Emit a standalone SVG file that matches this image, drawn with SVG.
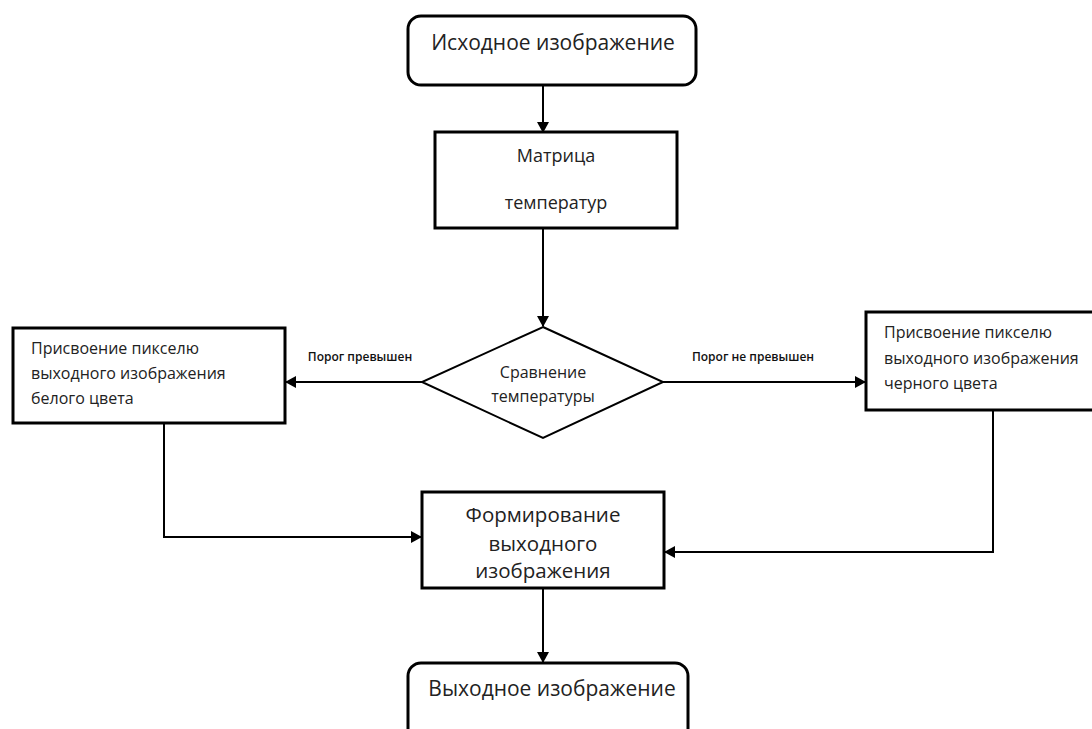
<svg xmlns="http://www.w3.org/2000/svg" width="1092" height="729" viewBox="0 0 1092 729">
<defs>
<marker id="arr" markerWidth="12" markerHeight="12" refX="10" refY="6" orient="auto" markerUnits="userSpaceOnUse">
<path d="M0,0 L11,6 L0,12 Z" fill="#000"/>
</marker>
<style>
.box{fill:#fff;stroke:#000;stroke-width:3}
.con{fill:none;stroke:#000;stroke-width:2;marker-end:url(#arr)}
.t{font-family:"Open Sans","DejaVu Sans",sans-serif;fill:#222}
.c{text-anchor:middle}
.lbl{font-family:"Open Sans","DejaVu Sans",sans-serif;font-size:12px;font-weight:600;fill:#111;text-anchor:middle}
</style>
</defs>
<rect width="1092" height="729" fill="#fff"/>
<g id="connectors">
<path class="con" d="M543,85 V132"/>
<path class="con" d="M543,228 V326"/>
<path class="con" d="M422,382 H286"/>
<path class="con" d="M663,382 H865"/>
<path class="con" d="M164,423 V537 H421"/>
<path class="con" d="M993,410 V552 H665"/>
<path class="con" d="M543,588 V662"/>
<text class="lbl" x="360" y="361">Порог превышен</text>
<text class="lbl" x="753" y="361">Порог не превышен</text>
</g>
<g id="start">
<rect class="box" x="408" y="16" width="288" height="69" rx="13"/>
<text class="t c" x="553" y="50" font-size="21">Исходное изображение</text>
</g>
<g id="matrix">
<rect class="box" x="435" y="132" width="242" height="96"/>
<text class="t c" x="556" y="162" font-size="18">Матрица</text>
<text class="t c" x="556" y="209" font-size="18">температур</text>
</g>
<g id="compare">
<polygon class="box" style="stroke-width:2" points="543,327 663,382 543,438 422,382"/>
<text class="t c" x="543" y="378" font-size="16">Сравнение</text>
<text class="t c" x="543" y="402" font-size="16">температуры</text>
</g>
<g id="white">
<rect class="box" x="13" y="328" width="272" height="95"/>
<text class="t" x="31" y="354" font-size="16">Присвоение пикселю</text>
<text class="t" x="31" y="379" font-size="16">выходного изображения</text>
<text class="t" x="31" y="404" font-size="16">белого цвета</text>
</g>
<g id="black">
<rect class="box" x="866" y="312" width="240" height="98"/>
<text class="t" x="884" y="338" font-size="16">Присвоение пикселю</text>
<text class="t" x="884" y="364" font-size="16">выходного изображения</text>
<text class="t" x="884" y="389" font-size="16">черного цвета</text>
</g>
<g id="form">
<rect class="box" x="422" y="492" width="242" height="96"/>
<text class="t c" x="543" y="522" font-size="20.5">Формирование</text>
<text class="t c" x="543" y="551" font-size="20.5">выходного</text>
<text class="t c" x="543" y="578" font-size="20.5">изображения</text>
</g>
<g id="end">
<rect class="box" x="408" y="663" width="280" height="80" rx="13"/>
<text class="t c" x="552" y="696" font-size="21">Выходное изображение</text>
</g>
</svg>
